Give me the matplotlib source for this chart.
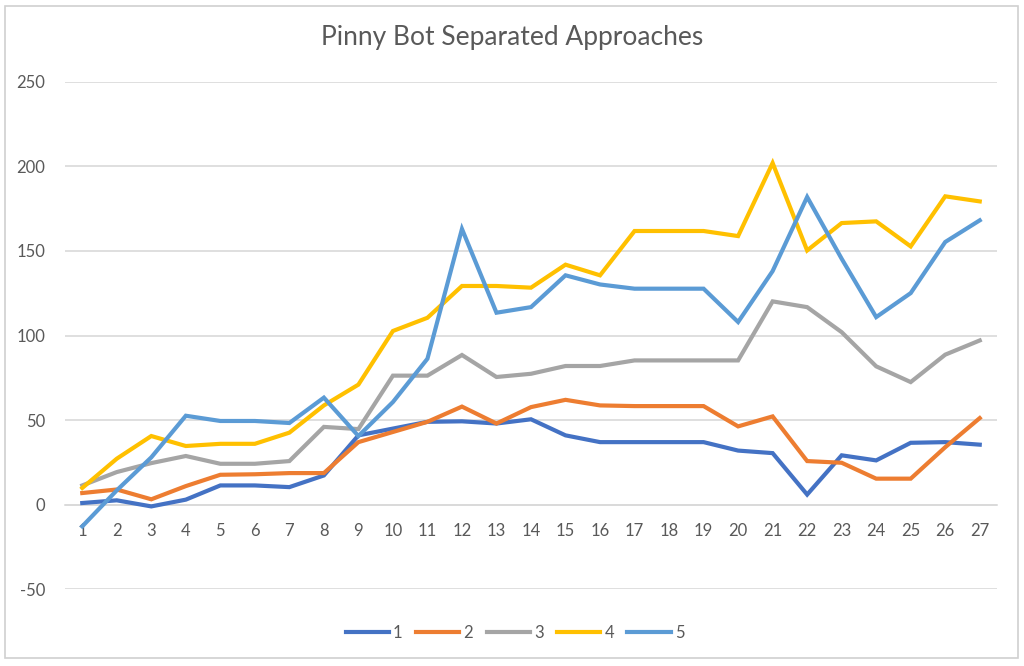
import matplotlib
matplotlib.use("Agg")
import matplotlib.pyplot as plt
from matplotlib.patches import Rectangle

categories = list(range(1, 28))
series_names = ["1", "2", "3", "4", "5"]
s1 = [1, 2.6, -1, 3, 11.4, 11.4, 10.4, 17.3, 41, 45, 49, 49.3, 48, 50.5,
      41, 37, 37, 37, 37, 32, 30.5, 6, 29.2, 26.2, 36.6, 37, 35.5]
s2 = [6.9, 9, 3.2, 11, 17.7, 18, 18.7, 18.7, 37, 43, 49, 58, 48, 57.7,
      62, 58.7, 58.3, 58.3, 58.3, 46.3, 52.2, 25.8, 24.8, 15.4, 15.4, 34, 51.2]
s3 = [11.4, 19.3, 24.6, 28.8, 24.2, 24.2, 25.8, 46, 44.7, 76.3, 76.3, 88.5, 75.5, 77.4,
      82, 82, 85.3, 85.3, 85.3, 85.3, 120.2, 116.8, 102, 81.8, 72.5, 88.7, 97.1]
s4 = [9.9, 27.2, 40.6, 34.7, 36, 36, 42.6, 58.7, 71, 102.7, 110.5, 129.3, 129.3, 128.3,
      141.9, 135.6, 161.8, 161.8, 161.8, 158.8, 202, 150.3, 166.5, 167.5, 152.7, 182.3, 179.3]
s5 = [-12.8, 8.5, 28, 52.6, 49.5, 49.5, 48.3, 63.3, 40.6, 60.7, 86.3, 163, 113.5, 116.8,
      135.6, 130.2, 127.7, 127.7, 127.7, 108, 138.1, 181.9, 145.4, 110.9, 125.1, 155.3, 168.1]
y_ticks = [-50, 0, 50, 100, 150, 200, 250]

colors = ["#4472C4", "#ED7D31", "#A5A5A5", "#FFC000", "#5B9BD5"]
text_color = "#595959"
grid_color = "#D9D9D9"

plt.rcParams['font.family'] = ['Lato', 'DejaVu Sans']
plt.rcParams['axes.unicode_minus'] = False

fig = plt.figure(figsize=(10.24, 6.66), dpi=100)
ax = fig.add_axes([65/1024, 1-589.3/666, (997-65)/1024, (589.3-81.8)/666])

for name, data, c in zip(series_names, [s1, s2, s3, s4, s5], colors):
    ax.plot(categories, data, color=c, lw=3, label=name, solid_joinstyle='miter', zorder=3)

ax.set_xlim(0.5, 27.5)
ax.set_ylim(-50, 250)
ax.set_yticks(y_ticks)
ax.set_xticks(categories)
ax.set_xticklabels([str(c) for c in categories])
ax.yaxis.grid(True, color=grid_color, lw=1.2)
ax.set_axisbelow(True)
for s in ["top", "right", "left"]:
    ax.spines[s].set_visible(False)
ax.spines["bottom"].set_position(("data", 0))
ax.spines["bottom"].set_color(grid_color)
ax.spines["bottom"].set_linewidth(1.2)
ax.tick_params(axis="both", length=0, labelsize=12, labelcolor=text_color)
ax.tick_params(axis="x", pad=13)
ax.tick_params(axis="y", pad=14)

fig.text(0.5, 1-38/666, "Pinny Bot Separated Approaches", ha="center", va="center",
         fontsize=19, color=text_color)

fig.legend(loc="center", bbox_to_anchor=(0.503, 1-633/666), ncol=5, frameon=False,
           fontsize=12, labelcolor=text_color, handlelength=2.6, handletextpad=0.25,
           columnspacing=0.8)

fig.patches.append(Rectangle((5/1024, 8/666), 1013/1024, 652/666, transform=fig.transFigure,
                             fill=False, edgecolor="#D0D0D0", lw=1.2))

fig.savefig("out.png", dpi=100, facecolor="white")
